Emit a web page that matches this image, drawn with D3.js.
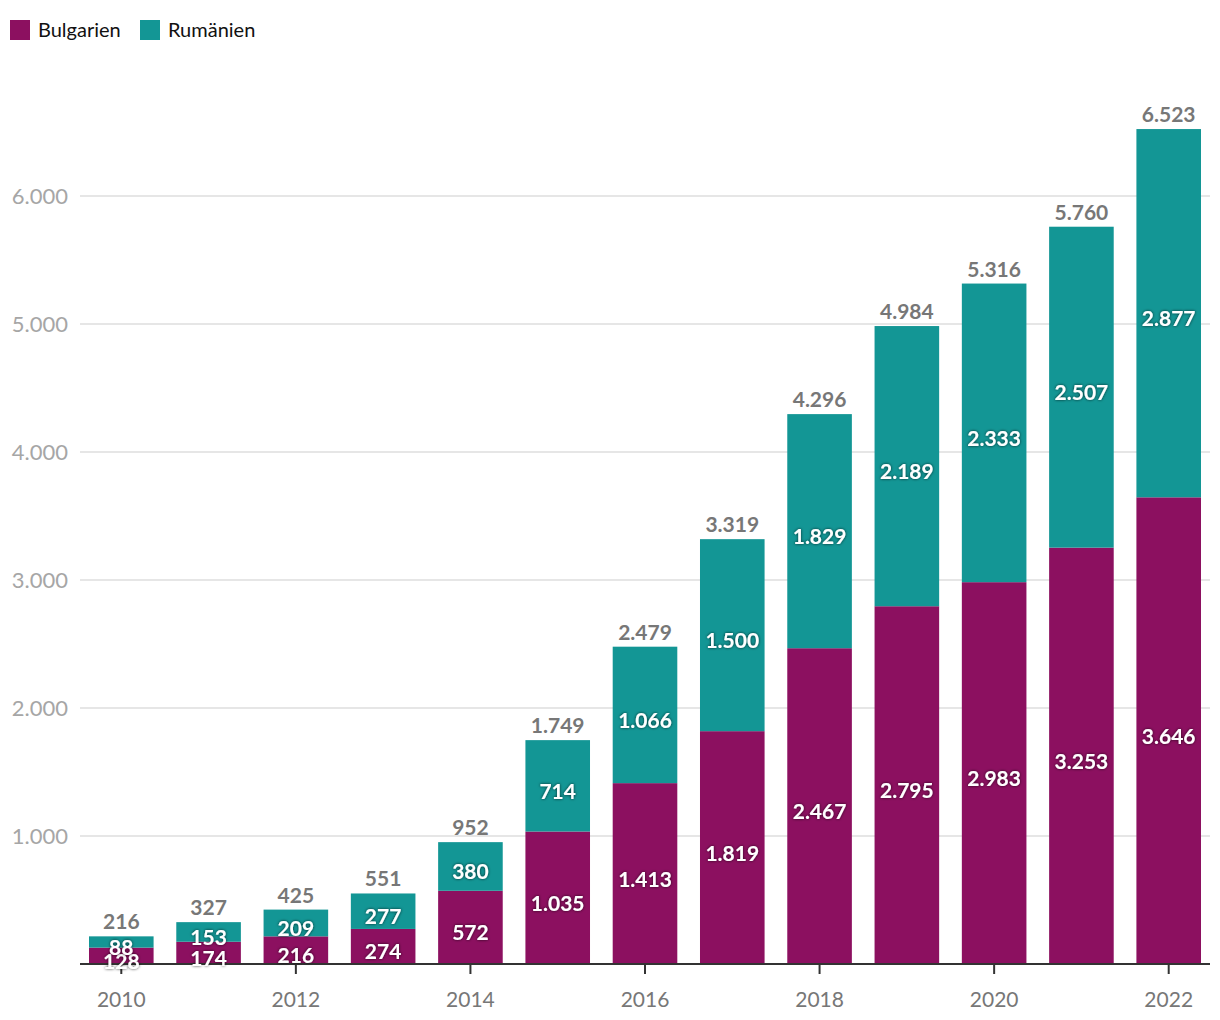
<!DOCTYPE html>
<html><head><meta charset="utf-8">
<script src="https://cdn.jsdelivr.net/npm/d3@7"></script>
<style>
body{margin:0;background:#fff;}
svg{display:block;font-family:Lato,"Open Sans",sans-serif;}
</style></head>
<body><svg id="c" width="1220" height="1020"></svg>
<script>
const years = [2010,2011,2012,2013,2014,2015,2016,2017,2018,2019,2020,2021,2022];
const bulgarien = [128,174,216,274,572,1035,1413,1819,2467,2795,2983,3253,3646];
const rumaenien = [88,153,209,277,380,714,1066,1500,1829,2189,2333,2507,2877];
const seriesNames = ["Bulgarien","Rumänien"];
const colors = ["#8c1060","#139695"];
const yTicks = [1000,2000,3000,4000,5000,6000];
const xTickYears = [2010,2012,2014,2016,2018,2020,2022];

const loc = d3.formatLocale({decimal:",",thousands:".",grouping:[3],currency:["","€"]});
const fmt = loc.format(",d");

const svg = d3.select("#c");
const defs = svg.append("defs");
const f = defs.append("filter").attr("id","sh").attr("x","-20%").attr("y","-30%").attr("width","140%").attr("height","160%");
f.append("feDropShadow").attr("dx",0).attr("dy",0).attr("stdDeviation",1.6).attr("flood-color","#000").attr("flood-opacity",0.75);

const x = d3.scaleBand().domain(years).range([89,1201]).paddingInner(0.26).paddingOuter(0);
const y = d3.scaleLinear().domain([0,6000]).range([964,196]);

// gridlines
svg.append("g").selectAll("line").data(yTicks).join("line")
  .attr("x1",80).attr("x2",1210).attr("y1",d=>y(d)).attr("y2",d=>y(d))
  .attr("stroke","#e6e6e6").attr("stroke-width",2);
svg.append("g").selectAll("text").data(yTicks).join("text")
  .attr("x",68).attr("y",d=>y(d)).attr("dy","0.36em").attr("text-anchor","end")
  .attr("font-size",22).attr("fill","#a6a6a6").text(d=>fmt(d));

// stacks
const rows = years.map((yr,i)=>({year:yr,Bulgarien:bulgarien[i],"Rumänien":rumaenien[i]}));
const stack = d3.stack().keys(seriesNames)(rows);
const g = svg.append("g");
stack.forEach((s,si)=>{
  g.append("g").attr("fill",colors[si]).selectAll("rect").data(s).join("rect")
   .attr("x",d=>x(d.data.year)).attr("width",x.bandwidth())
   .attr("y",d=>y(d[1])).attr("height",d=>y(d[0])-y(d[1]));
});

// x axis
svg.append("line").attr("x1",80).attr("x2",1210).attr("y1",964).attr("y2",964)
  .attr("stroke","#333").attr("stroke-width",2);
const xt = svg.append("g").selectAll("g").data(xTickYears).join("g")
  .attr("transform",d=>`translate(${x(d)+x.bandwidth()/2},964)`);
xt.append("line").attr("y1",0).attr("y2",10).attr("stroke","#333").attr("stroke-width",2);
xt.append("text").attr("y",43).attr("text-anchor","middle").attr("font-size",21)
  .attr("fill","#777").text(d=>d);

// labels on top
const lab = svg.append("g");
stack.forEach((s,si)=>{
  lab.append("g").selectAll("text").data(s).join("text")
   .attr("x",d=>x(d.data.year)+x.bandwidth()/2)
   .attr("y",d=>(y(d[0])+y(d[1]))/2+13)
   .attr("text-anchor","middle").attr("font-size",21).attr("font-weight",700)
   .attr("fill","#fff").attr("filter","url(#sh)")
   .text(d=>fmt(d[1]-d[0]));
});
// totals
lab.append("g").selectAll("text").data(rows).join("text")
  .attr("x",d=>x(d.year)+x.bandwidth()/2)
  .attr("y",d=>y(d.Bulgarien+d["Rumänien"])-7)
  .attr("text-anchor","middle").attr("font-size",21).attr("font-weight",700)
  .attr("fill","#777").text(d=>fmt(d.Bulgarien+d["Rumänien"]));

// legend
const lg = svg.append("g");
const lx = [10,140];
seriesNames.forEach((n,i)=>{
  lg.append("rect").attr("x",lx[i]).attr("y",20).attr("width",20).attr("height",20).attr("fill",colors[i]);
  lg.append("text").attr("x",lx[i]+28).attr("y",37).attr("font-size",20).attr("fill","#111").text(n);
});
</script></body></html>
